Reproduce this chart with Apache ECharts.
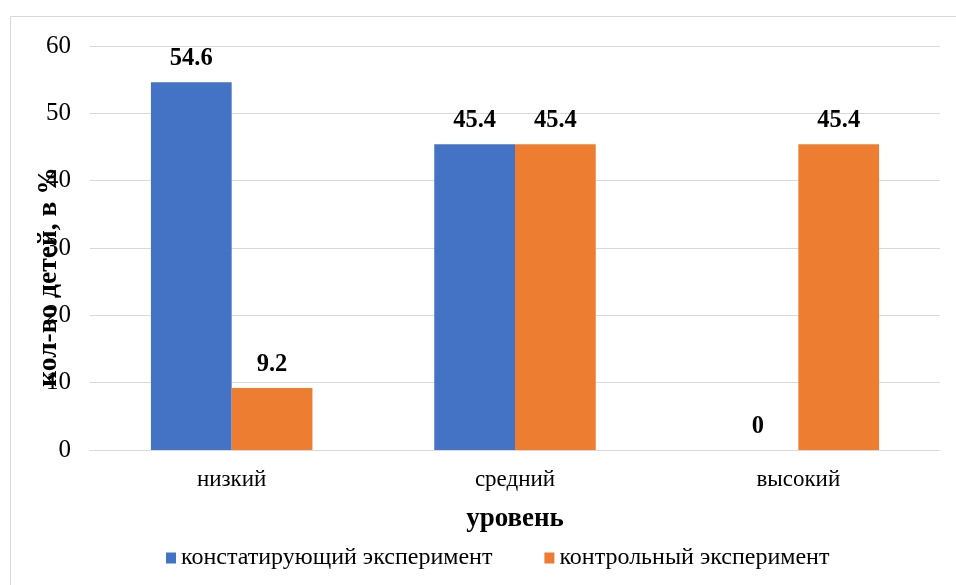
<!DOCTYPE html>
<html><head><meta charset="utf-8">
<script src="https://cdn.jsdelivr.net/npm/echarts@6/dist/echarts.min.js"></script>
<style>html,body{margin:0;padding:0;background:#fff}#c{width:956px;height:585px}</style>
</head><body><div id="c"></div>
<script>
var categories = ['низкий', 'средний', 'высокий'];
var seriesNames = ['констатирующий эксперимент', 'контрольный эксперимент'];
var valuesA = [54.6, 45.4, 0];
var valuesB = [9.2, 45.4, 45.4];
var yTicks = {min: 0, max: 60, interval: 10};

var FONT = '"Liberation Serif", "Times New Roman", serif';
var chart = echarts.init(document.getElementById('c'));
var labelCfg = {show: true, position: 'top', distance: 11, fontFamily: FONT, fontSize: 24.5, fontWeight: 'bold', color: '#000'};
chart.setOption({
  animation: false,
  textStyle: {fontFamily: FONT},
  graphic: [
    {type: 'rect', shape: {x: 10.5, y: 16.5, width: 1000, height: 700}, style: {fill: 'none', stroke: '#d9d9d9', lineWidth: 1}, silent: true, z: -1},
    {type: 'text', x: 49, y: 277, rotation: Math.PI / 2, style: {text: 'кол-во детей, в %', fontFamily: FONT, fontSize: 27.5, fontWeight: 'bold', fill: '#000', textAlign: 'center', textVerticalAlign: 'middle'}, z: 10}
  ],
  grid: {left: 90, right: 16, top: 46, bottom: 135},
  legend: {
    data: seriesNames, left: 161, top: 541, itemWidth: 10, itemHeight: 11, itemGap: 52, icon: 'rect',
    textStyle: {fontFamily: FONT, fontSize: 24, color: '#000'}
  },
  xAxis: {
    type: 'category', data: categories,
    name: 'уровень', nameLocation: 'middle', nameGap: 56,
    nameTextStyle: {fontFamily: FONT, fontSize: 27, fontWeight: 'bold', color: '#000'},
    axisLine: {show: true, lineStyle: {color: '#d9d9d9'}},
    axisTick: {show: false},
    axisLabel: {fontFamily: FONT, fontSize: 23, color: '#000', margin: 18}
  },
  yAxis: {
    type: 'value', min: yTicks.min, max: yTicks.max, interval: yTicks.interval,
    axisLine: {show: false}, axisTick: {show: false},
    axisLabel: {fontFamily: FONT, fontSize: 25, color: '#000', margin: 19},
    splitLine: {lineStyle: {color: '#d9d9d9', width: 1}}
  },
  series: [
    {name: seriesNames[0], type: 'bar', data: valuesA, barGap: '0%', barCategoryGap: '43%', itemStyle: {color: '#4472C4'}, label: labelCfg},
    {name: seriesNames[1], type: 'bar', data: valuesB, barGap: '0%', barCategoryGap: '43%', itemStyle: {color: '#ED7D31'}, label: labelCfg}
  ]
});
</script></body></html>
